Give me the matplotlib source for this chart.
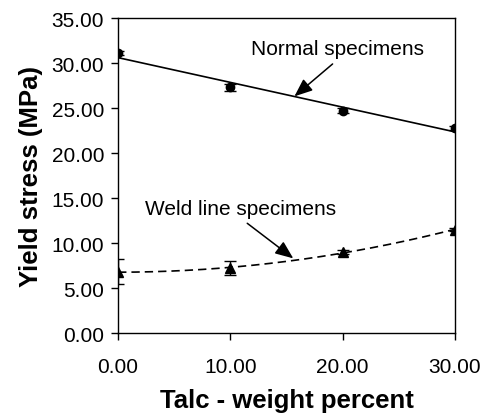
import numpy as np
import matplotlib
matplotlib.use("Agg")
import matplotlib.pyplot as plt

plt.rcParams['font.family'] = ['Liberation Sans', 'DejaVu Sans']

talc = [0, 10, 20, 30]
normal = [31.1, 27.3, 24.7, 22.8]
normal_err = [0.25, 0.4, 0.3, 0.2]
weld = [6.8, 7.2, 9.0, 11.5]
weld_err = [1.4, 0.8, 0.2, 0.2]
xticks = [0, 10, 20, 30]
yticks = [0, 5, 10, 15, 20, 25, 30, 35]

fig = plt.figure(figsize=(4.82, 4.14), dpi=100)
ax = fig.add_axes([0.245, 0.193, 0.699, 0.761])

ax.errorbar(talc, normal, yerr=normal_err, fmt='o', color='black', ms=6,
            capsize=4, elinewidth=1, capthick=1, zorder=3)
ax.errorbar(talc, weld, yerr=weld_err, fmt='^', color='black', ms=7,
            capsize=4, elinewidth=1, capthick=1, zorder=3)

xs = np.linspace(0, 30, 200)
p1 = np.polyfit(talc, normal, 1)
ax.plot(xs, np.polyval(p1, xs), color='black', lw=1.2)
p2 = np.polyfit(talc, weld, 2)
ax.plot(xs, np.polyval(p2, xs), color='black', lw=1.2, linestyle=(0, (5, 3)))

ax.set_xlim(0, 30)
ax.set_ylim(0, 35)
ax.set_xticks(xticks)
ax.set_yticks(yticks)
ax.set_xticklabels([f"{v:.2f}" for v in xticks])
ax.set_yticklabels([f"{v:.2f}" for v in yticks])
ax.tick_params(direction='out', length=5, width=1, labelsize=15)
ax.tick_params(axis='x', pad=12)
ax.tick_params(axis='y', pad=5)
for s in ax.spines.values():
    s.set_linewidth(1)

ax.set_xlabel('Talc - weight percent', fontsize=18.5, fontweight='bold', labelpad=8.5)
ax.set_ylabel('Yield stress (MPa)', fontsize=18.5, fontweight='bold', labelpad=6)

arrow = dict(arrowstyle='-|>,head_length=1.1,head_width=0.45',
             color='black', lw=1.1, shrinkA=0, shrinkB=0)
ax.text(19.5, 31.6, 'Normal specimens', fontsize=15, ha='center', va='center')
ax.annotate('', xy=(15.7, 26.3), xytext=(19.1, 29.9), arrowprops=arrow)
ax.text(10.9, 13.8, 'Weld line specimens', fontsize=15, ha='center', va='center')
ax.annotate('', xy=(15.6, 8.3), xytext=(11.5, 12.2), arrowprops=arrow)

fig.savefig('out.png', dpi=100)
